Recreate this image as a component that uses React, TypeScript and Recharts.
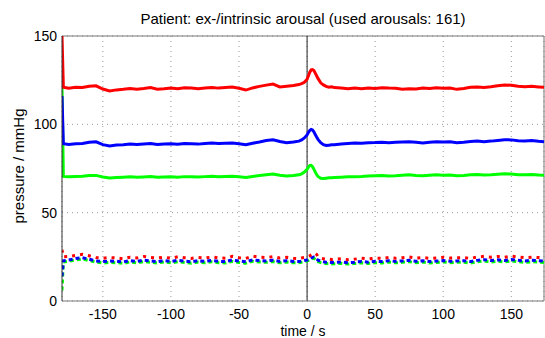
import React from "react";
import { CartesianGrid, Line, LineChart, ReferenceLine, XAxis, YAxis } from "recharts";

// time axis (s) relative to arousal onset
const TIME = [
  -180, -179, -175, -170, -165, -160, -155, -150, -145, -140,
  -135, -130, -125, -120, -115, -110, -105, -100, -95, -90,
  -85, -80, -75, -70, -65, -60, -55, -50, -45, -40,
  -35, -30, -25, -20, -15, -10, -6, -4, -2, 0,
  1, 2, 3, 4, 5, 6, 7, 8, 10, 12,
  14, 16, 18, 20, 25, 30, 35, 40, 45, 50,
  55, 60, 65, 70, 75, 80, 85, 90, 95, 100,
  105, 110, 115, 120, 125, 130, 135, 140, 145, 150,
  155, 160, 165, 170, 174,
];

// upper curves (mmHg)
const RED_HIGH = [
  150, 121, 120.5, 121, 120.8, 121.5, 121.8, 120, 118.9, 119.5,
  119.8, 120.3, 119.9, 120.3, 120.8, 119.9, 120.1, 120.6, 120.2, 120.7,
  120.5, 120.2, 120.6, 120.9, 120.5, 120.8, 121.1, 120.4, 119.4, 120.6,
  121.5, 122.2, 122.8, 121.2, 121.6, 122, 122.5, 123, 123.8, 125.5,
  127.5, 129.5, 130.8, 131, 130.5, 129, 127.5, 126, 123.5, 122.3,
  121.5, 121, 121.2, 120.8, 120.5, 120.1, 120.5, 120.2, 120.6, 120.3,
  120.7, 120.5, 120.4, 119.9, 120.2, 120, 120.6, 120.3, 120.7, 120.4,
  120.6, 119.8, 120.3, 121, 121.2, 120.9, 121.3, 121.8, 122.3, 122.1,
  121.6, 121.3, 121.5, 121.2, 121,
];
const BLUE_HIGH = [
  116, 89, 88.6, 89, 89.2, 89.8, 90.1, 88.5, 87.8, 88.3,
  88.5, 88.9, 88.6, 88.9, 89.2, 88.6, 88.9, 89, 88.7, 89.1,
  89, 88.8, 89.2, 89.4, 89.1, 89.3, 89.4, 89, 88.5, 89.3,
  90, 90.8, 91.3, 90.3, 89.6, 90, 90.5, 91.2, 92.3, 94,
  95.5, 96.6, 97.1, 96.8, 95.8, 94.2, 92.8, 91.5, 89.6, 88.5,
  88, 88.2, 88.4, 88.5, 88.9, 89.2, 89.4, 89.3, 89.6, 89.7,
  89.9, 89.6, 89.8, 90, 90.1, 89.8, 89.5, 89.9, 90.2, 90,
  90.1, 89.6, 89.9, 90.3, 90.5, 90.2, 90.5, 90.9, 91.3, 91.2,
  90.7, 90.5, 90.8, 90.4, 90.2,
];
const GREEN_HIGH = [
  121, 70.5, 70.3, 70.5, 70.6, 71, 71.1, 70.2, 69.6, 69.9,
  70.1, 70.3, 70, 70.2, 70.4, 70, 70.2, 70.3, 70.1, 70.4,
  70.3, 70.2, 70.4, 70.6, 70.4, 70.5, 70.6, 70.3, 69.9, 70.5,
  71, 71.5, 71.9, 71.2, 70.7, 71, 71.4, 72, 73, 74.6,
  75.8, 76.7, 76.8, 76, 74.6, 73, 71.6, 70.5, 69.5, 69.3,
  69.5, 69.7, 69.8, 69.9, 70.1, 70.3, 70.4, 70.5, 70.7, 70.9,
  71.1, 70.8, 70.9, 71.2, 71.4, 71.1, 70.9, 71.2, 71.4, 71.2,
  71.3, 70.9, 71.1, 71.4, 71.6, 71.3, 71.5, 71.8, 72, 71.9,
  71.5, 71.4, 71.6, 71.3, 71.2,
];

// lower (dotted) curves
const RED_LOW = [
  29, 25, 25.2, 25.8, 26.4, 25.6, 24.6, 24.2, 24.6, 24.4,
  23.9, 24.8, 24.4, 25.2, 24.6, 24.3, 24.8, 24.2, 25, 24.5,
  24.1, 24.7, 24.3, 24.9, 24.4, 24.2, 25.3, 24.5, 24.1, 25.4,
  24.8, 24.6, 25.1, 24.3, 24.7, 24.2, 24, 24.4, 24.6, 24.9,
  25.3, 25.6, 26.1, 26.5, 26.8, 27.1, 26.4, 25.2, 24.3, 23.9,
  23.6, 23.7, 23.5, 23.6, 23.9, 23.4, 23.7, 24.2, 23.8, 24.3,
  24.1, 24.6, 24.2, 24.5, 24.9, 24.3, 24.6, 24.1, 24.4, 24.8,
  24.3, 24.5, 24.6, 24.1, 24.9, 25.3, 24.8, 25.2, 24.7, 25.4,
  24.9, 24.5, 24.8, 24.6, 24.4,
];
const BLUE_LOW = [
  14, 22.8, 23.2, 24, 24.5, 23.6, 22.7, 22.3, 22.6, 22.5,
  22.1, 22.9, 22.4, 23.1, 22.7, 22.3, 22.9, 22.4, 23, 22.6,
  22.2, 22.8, 22.4, 23, 22.5, 22.3, 23.2, 22.6, 22.2, 23.3,
  22.9, 22.7, 23.1, 22.4, 22.8, 22.4, 22.3, 22.6, 22.9, 23.2,
  23.6, 24, 24.4, 24.7, 24.9, 24.6, 23.9, 23.1, 22.5, 22.2,
  21.9, 22, 21.8, 21.9, 22.1, 21.7, 22, 22.4, 22, 22.5,
  22.3, 22.8, 22.4, 22.7, 23, 22.5, 22.8, 22.3, 22.6, 22.9,
  22.5, 22.7, 22.8, 22.3, 23, 23.4, 22.9, 23.3, 22.9, 23.5,
  23, 22.7, 23, 22.8, 22.6,
];
const GREEN_LOW = [
  6, 22, 22.5, 23.3, 23.8, 22.9, 22, 21.5, 21.8, 21.7,
  21.3, 22.1, 21.6, 22.3, 21.9, 21.5, 22.1, 21.6, 22.2, 21.8,
  21.4, 22, 21.6, 22.2, 21.7, 21.5, 22.4, 21.8, 21.4, 22.5,
  22.1, 21.9, 22.3, 21.6, 22, 21.6, 21.6, 21.9, 22.2, 22.6,
  23, 23.4, 23.8, 24, 24.1, 23.7, 23, 22.3, 21.7, 21.4,
  21.1, 21.2, 21, 21.1, 21.3, 20.9, 21.2, 21.6, 21.2, 21.7,
  21.5, 22, 21.6, 21.9, 22.2, 21.7, 22, 21.5, 21.8, 22.1,
  21.7, 21.9, 22, 21.5, 22.2, 22.6, 22.1, 22.5, 22.1, 22.7,
  22.2, 21.9, 22.2, 22, 21.8,
];

const X_TICKS = [-150, -100, -50, 0, 50, 100, 150];
const Y_TICKS = [0, 50, 100, 150];

const data = TIME.map((t, i) => ({
  t,
  redHigh: RED_HIGH[i],
  blueHigh: BLUE_HIGH[i],
  greenHigh: GREEN_HIGH[i],
  redLow: RED_LOW[i],
  blueLow: BLUE_LOW[i],
  greenLow: GREEN_LOW[i],
}));

const FONT = '"Liberation Sans", Arial, sans-serif';
const tickStyle = { fill: "#000", fontSize: 14, fontFamily: FONT };

export default function App() {
  return (
    <div style={{ position: "absolute", left: 0, top: 0, width: 545, height: 338, fontFamily: FONT, background: "#fff" }}>
      <div style={{ position: "absolute", left: 62, width: 482, top: 10, textAlign: "center", fontSize: 15, color: "#000" }}>
        Patient: ex-/intrinsic arousal (used arousals: 161)
      </div>
      <div
        style={{
          position: "absolute",
          left: 18,
          top: 166,
          transform: "translate(-50%, -50%) rotate(-90deg)",
          whiteSpace: "nowrap",
          fontSize: 15,
          color: "#000",
        }}
      >
        pressure / mmHg
      </div>
      <LineChart width={545} height={338} data={data} margin={{ top: 36, right: 1, left: 0, bottom: 0 }}>
        <CartesianGrid stroke="#999" strokeDasharray="1 4" />
        <XAxis
          dataKey="t"
          type="number"
          domain={[-180, 174]}
          allowDataOverflow
          ticks={X_TICKS}
          height={37}
          tick={tickStyle}
          tickLine={false}
          tickSize={6}
          tickMargin={2}
          axisLine={{ stroke: "#777" }}
          label={{ value: "time / s", position: "insideBottom", offset: 2, fill: "#000", fontSize: 14, fontFamily: FONT }}
        />
        <YAxis
          type="number"
          domain={[0, 150]}
          allowDataOverflow
          ticks={Y_TICKS}
          width={62}
          tick={tickStyle}
          tickLine={false}
          tickSize={3}
          tickMargin={2}
          axisLine={{ stroke: "#333" }}
        />
        <ReferenceLine y={150} stroke="#777" />
        <ReferenceLine x={174} stroke="#777" />
        <ReferenceLine x={0} stroke="#222" strokeWidth={1} />
        <Line type="linear" dataKey="greenLow" stroke="#00ff00" strokeWidth={3} strokeDasharray="4 3" dot={false} isAnimationActive={false} />
        <Line type="linear" dataKey="blueLow" stroke="#0000ff" strokeWidth={3} strokeDasharray="4 3" dot={false} isAnimationActive={false} />
        <Line type="linear" dataKey="redLow" stroke="#ff0000" strokeWidth={3} strokeDasharray="3 5" dot={false} isAnimationActive={false} />
        <Line type="linear" dataKey="greenHigh" stroke="#00ff00" strokeWidth={3} dot={false} isAnimationActive={false} />
        <Line type="linear" dataKey="blueHigh" stroke="#0000ff" strokeWidth={3} dot={false} isAnimationActive={false} />
        <Line type="linear" dataKey="redHigh" stroke="#ff0000" strokeWidth={3} dot={false} isAnimationActive={false} />
      </LineChart>
    </div>
  );
}
